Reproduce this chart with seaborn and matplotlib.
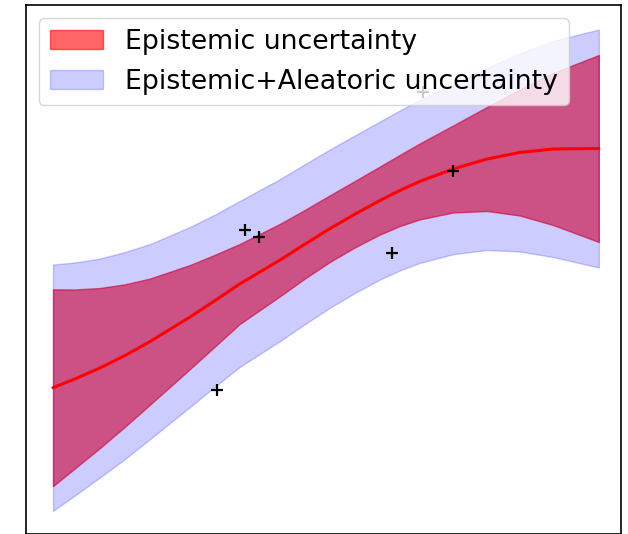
import numpy as np
import pandas as pd
import matplotlib
matplotlib.use("Agg")
import matplotlib.pyplot as plt
import seaborn as sns

# ---- data ----
x_grid = [0.0, 0.40, 0.86, 1.32, 1.78, 2.51, 2.97, 3.42, 4.16, 4.62,
          5.07, 5.53, 5.99, 6.36, 6.72, 7.33, 7.95, 8.55, 9.16, 10.0]
mean_pred = [0.123, 0.21, 0.32, 0.445, 0.585, 0.83, 0.995, 1.16, 1.40, 1.56,
             1.713, 1.858, 1.995, 2.097, 2.186, 2.31, 2.41, 2.475, 2.51, 2.515]
epistemic_halfwidth = [0.984, 0.895, 0.80, 0.712, 0.63, 0.52, 0.458, 0.40, 0.362, 0.343,
                       0.333, 0.332, 0.34, 0.356, 0.38, 0.435, 0.52, 0.63, 0.76, 0.935]
total_halfwidth = [1.232, 1.165, 1.095, 1.035, 0.975, 0.90, 0.86, 0.83, 0.81, 0.80,
                   0.792, 0.788, 0.79, 0.80, 0.815, 0.852, 0.91, 0.99, 1.08, 1.19]
obs_x = [3.516, 3.773, 2.998, 6.203, 7.326, 6.777]
obs_y = [1.70, 1.633, 0.10, 1.467, 2.29, 3.083]

labels = ["Epistemic uncertainty", "Epistemic+Aleatoric uncertainty"]

df = pd.DataFrame({"x": x_grid, "mean": mean_pred,
                   "ep": epistemic_halfwidth, "tot": total_halfwidth})
obs = pd.DataFrame({"x": obs_x, "y": obs_y})

sns.set_style("white")
plt.rcParams['font.family'] = ['DejaVu Sans']

fig = plt.figure(figsize=(6.28, 5.34), dpi=100)
bottom = -0.3 / 534
ax = fig.add_axes([25.7 / 628, bottom, (620.7 - 25.7) / 628, 1 - 5.0 / 534 - bottom])

ax.fill_between(df["x"], df["mean"] - df["ep"], df["mean"] + df["ep"],
                color="red", alpha=0.6, label=labels[0])
ax.fill_between(df["x"], df["mean"] - df["tot"], df["mean"] + df["tot"],
                color="blue", alpha=0.2, label=labels[1])
sns.lineplot(data=df, x="x", y="mean", color="red", linewidth=2.2, ax=ax,
             legend=False)
sns.scatterplot(data=obs, x="x", y="y", marker="+", color="black", s=80,
                linewidth=1.6, ax=ax, legend=False, zorder=3)

ax.set_xlim(-0.5, 10.4)
ax.set_ylim(-1.343, 3.95)
ax.set_xticks([])
ax.set_yticks([])
ax.set_xlabel("")
ax.set_ylabel("")
for sp in ax.spines.values():
    sp.set_color("black")
    sp.set_linewidth(1.2)

ax.legend(loc="upper left", fontsize=19.3, frameon=True, framealpha=0.8,
          labelcolor="black", edgecolor="0.8")

fig.savefig("out.png", dpi=100)
